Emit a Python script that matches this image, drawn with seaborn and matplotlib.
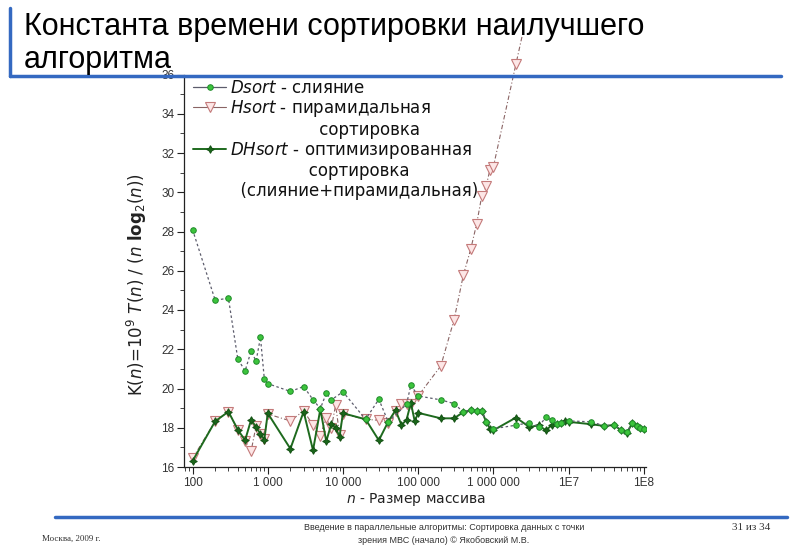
import matplotlib
matplotlib.use("Agg")
import matplotlib.pyplot as plt
import seaborn as sns
from matplotlib.lines import Line2D
from matplotlib.transforms import Bbox, TransformedBbox
from matplotlib.ticker import FixedLocator, FixedFormatter, LogLocator, NullFormatter, MultipleLocator

# ---------------- data ----------------
title_text = "Константа времени сортировки наилучшего\nалгоритма"
xlabel_text = r"$n$ - Размер массива"
ylabel_text = r"K($n$)=10$^9$ $T$($n$) / ($n$ $\mathbf{log}_2$($n$))"

x_tick_values = [1e2, 1e3, 1e4, 1e5, 1e6, 1e7, 1e8]
x_tick_labels = ["100", "1 000", "10 000", "100 000", "1 000 000", "1E7", "1E8"]
y_tick_values = [16, 18, 20, 22, 24, 26, 28, 30, 32, 34, 36]

dsort_n = [100, 200, 300, 400, 500, 600, 700, 800, 900,
           1000, 2000, 3000, 4000, 5000, 6000, 7000,
           10000, 20000, 30000, 40000, 70000, 80000,
           100000, 200000, 300000, 400000, 500000, 600000, 700000, 800000,
           1e6, 2e6, 3e6, 4e6, 5e6, 6e6, 7e6, 8e6,
           1e7, 2e7, 3e7, 4e7, 5e7, 6e7, 7e7, 8e7, 9e7, 1e8]
dsort_k = [28.1, 24.5, 24.6, 21.5, 20.9, 21.9, 21.4, 22.6, 20.5,
           20.25, 19.85, 20.1, 19.43, 18.97, 19.76, 19.42,
           19.83, 18.43, 19.45, 18.3, 19.2, 20.17,
           19.62, 19.42, 19.23, 18.8, 18.9, 18.86, 18.86, 18.31,
           17.95, 18.13, 18.26, 18.05, 18.55, 18.38, 18.2, 18.25,
           18.35, 18.3, 18.1, 18.14, 17.9, 17.8, 18.24, 18.1, 18.0, 17.95]

hsort_n = [100, 200, 300, 400, 500, 600, 700, 800, 900,
           1000, 2000, 3000, 4000, 5000, 6000, 7000, 8000, 9000,
           10000, 20000, 30000, 40000, 50000, 60000, 70000, 80000,
           100000, 200000, 300000, 400000, 500000, 600000, 700000, 800000, 900000,
           1e6, 2e6, 3e6]
hsort_k = [16.44, 18.33, 18.82, 17.89, 17.33, 16.8, 18.1, 17.67, 17.41,
           18.7, 18.35, 18.86, 18.14, 17.6, 18.52, 18.0, 19.16, 17.65,
           18.7, 18.43, 18.38, 18.26, 18.86, 19.2, 19.2, 19.2,
           19.62, 21.15, 23.5, 25.8, 27.1, 28.4, 29.8, 30.3, 31.15,
           31.3, 36.55, 39.6]

dhsort_n = [100, 200, 300, 400, 500, 600, 700, 800, 900,
            1000, 2000, 3000, 4000, 5000, 6000, 7000, 8000, 9000,
            10000, 20000, 30000, 40000, 50000, 60000, 70000, 80000, 90000,
            1e5, 2e5, 3e5, 4e5, 5e5, 6e5, 7e5, 8e5, 9e5,
            1e6, 2e6, 3e6, 4e6, 5e6, 6e6, 7e6, 8e6, 9e6,
            1e7, 2e7, 3e7, 4e7, 5e7, 6e7, 7e7, 8e7, 9e7,
            1e8]
dhsort_k = [16.3, 18.33, 18.82, 17.9, 17.36, 18.4, 18.04, 17.67, 17.39,
            18.74, 16.93, 18.82, 16.85, 18.94, 17.31, 18.19, 18.0, 17.55,
            18.74, 18.43, 17.36, 18.31, 18.89, 18.14, 18.4, 19.27, 18.33,
            18.76, 18.48, 18.48, 18.8, 18.89, 18.86, 18.86, 18.31, 17.95,
            17.87, 18.52, 18.04, 18.12, 17.87, 18.14, 18.18, 18.25, 18.35,
            18.3, 18.18, 18.09, 18.14, 17.87, 17.75, 18.23, 18.09, 17.97,
            17.92]

legend_labels = [r"$\it{Dsort}$ - слияние",
                 r"$\it{Hsort}$ - пирамидальная",
                 "                 сортировка",
                 r"$\it{DHsort}$ - оптимизированная",
                 "               сортировка",
                 "  (слияние+пирамидальная)"]

footer_left = "Москва, 2009 г."
footer_center = "Введение в параллельные алгоритмы: Сортировка данных с точки\nзрения МВС (начало) © Якобовский М.В."
footer_right = "31 из 34"

# ---------------- styles ----------------
sns.set_theme(style="ticks")
plt.rcParams["font.family"] = ["DejaVu Sans"]
plt.rcParams["mathtext.fontset"] = "dejavusans"

W, H = 800, 554
fig = plt.figure(figsize=(8, 5.54), dpi=100)
fig.patch.set_facecolor("white")

ax_left, ax_right, ax_top, ax_bottom = 184, 646, 74.5, 467
ax = fig.add_axes([ax_left / W, 1 - ax_bottom / H, (ax_right - ax_left) / W, (ax_bottom - ax_top) / H])
ax.set_facecolor("white")

hsort_style = dict(color="#8a6464", linestyle=(0, (4, 2, 1, 2)), linewidth=0.8,
                   marker="v", markersize=6.5, markerfacecolor="#fde6e6",
                   markeredgecolor="#c47a7a", markeredgewidth=0.8)
dsort_style = dict(color="#5c5c6c", linestyle=(0, (2, 2)), linewidth=0.9,
                   marker="o", markersize=4, markerfacecolor="#3cc43c",
                   markeredgecolor="#1f8a2a", markeredgewidth=0.7)
dhsort_style = dict(color="#1e6a1e", linestyle="-", linewidth=1.4,
                    marker=(4, 1, 0), markersize=5.5, markerfacecolor="#1a661a",
                    markeredgecolor="#145214", markeredgewidth=0.7)

sns.lineplot(x=hsort_n, y=hsort_k, ax=ax, estimator=None, sort=False, **hsort_style)
hline = ax.lines[-1]
sns.lineplot(x=dhsort_n, y=dhsort_k, ax=ax, estimator=None, sort=False, **dhsort_style)
sns.lineplot(x=dsort_n, y=dsort_k, ax=ax, estimator=None, sort=False, **dsort_style)

# the Hsort curve runs past the top of the axes, up to the top of the chart picture
clipbox = TransformedBbox(Bbox([[0, 0], [1, 1 - 33 / H]]), fig.transFigure)
hline.set_clip_on(True)
hline.set_clip_box(clipbox)
hline.set_zorder(1.5)

ax.set_xscale("log")
ax.set_xlim(77, 1.07e8)
ax.set_ylim(16, 36)
ax.xaxis.set_major_locator(FixedLocator(x_tick_values))
ax.xaxis.set_major_formatter(FixedFormatter(x_tick_labels))
ax.xaxis.set_minor_locator(LogLocator(base=10, subs=[2, 3, 4, 5, 6, 7, 8, 9], numticks=20))
ax.xaxis.set_minor_formatter(NullFormatter())
ax.yaxis.set_major_locator(FixedLocator(y_tick_values))
ax.yaxis.set_minor_locator(MultipleLocator(1))
ax.tick_params(axis="both", which="major", direction="out", length=5, width=0.8,
               color="#222222", labelsize=8.5, labelcolor="#333333", pad=2)
ax.tick_params(axis="both", which="minor", direction="out", length=3, width=0.6, color="#222222")
for lab in ax.get_xticklabels() + ax.get_yticklabels():
    lab.set_family("Liberation Sans")
sns.despine(ax=ax)
for s in ["left", "bottom"]:
    ax.spines[s].set_color("#222222")
    ax.spines[s].set_linewidth(0.9)
ax.set_xlabel("")
ax.set_ylabel("")

# legend
blank = Line2D([], [], color="none")
handles = [Line2D([], [], **dsort_style),
           Line2D([], [], **hsort_style),
           blank,
           Line2D([], [], **dhsort_style),
           blank, blank]
handles[0].set_linestyle("-")
handles[1].set_linestyle("-")
leg = ax.legend(handles, legend_labels, loc="upper left",
                bbox_to_anchor=(193 / W, 1 - 79 / H), bbox_transform=fig.transFigure,
                frameon=False, borderpad=0, borderaxespad=0, handlelength=2.0,
                handletextpad=0.25, labelspacing=0.08, fontsize=12)
for t in leg.get_texts():
    t.set_color("#111111")

# axis labels
fig.text(416 / W, 1 - 499 / H, xlabel_text, ha="center", va="center",
         fontsize=10, color="#222222", family="DejaVu Sans")
fig.text(137 / W, 1 - 285 / H, ylabel_text, ha="center", va="center", rotation=90,
         fontsize=12, color="#222222")

# slide decoration
blue = "#3469c1"
fig.add_artist(Line2D([10 / W, 10 / W], [1 - 8 / H, 1 - 76 / H], transform=fig.transFigure,
                      color=blue, linewidth=2.5))
fig.add_artist(Line2D([10 / W, 781 / W], [1 - 76 / H, 1 - 76 / H], transform=fig.transFigure,
                      color=blue, linewidth=2.5))
fig.add_artist(Line2D([55 / W, 787 / W], [1 - 517 / H, 1 - 517 / H], transform=fig.transFigure,
                      color=blue, linewidth=2.5))
fig.text(24 / W, 1 - 12 / H, title_text, ha="left", va="top", fontsize=22,
         family="Liberation Sans", color="black", linespacing=1.12)

fig.text(42 / W, 1 - 539 / H, footer_left, ha="left", va="center", fontsize=6.5,
         family="Liberation Serif", color="#333333")
fig.text(444 / W, 1 - 534 / H, footer_center, ha="center", va="center", fontsize=6.5,
         family="Liberation Sans", color="#333333", linespacing=1.5)
fig.text(770 / W, 1 - 528 / H, footer_right, ha="right", va="center", fontsize=8,
         family="Liberation Serif", color="#333333")

fig.savefig("out.png", dpi=100, facecolor="white")
